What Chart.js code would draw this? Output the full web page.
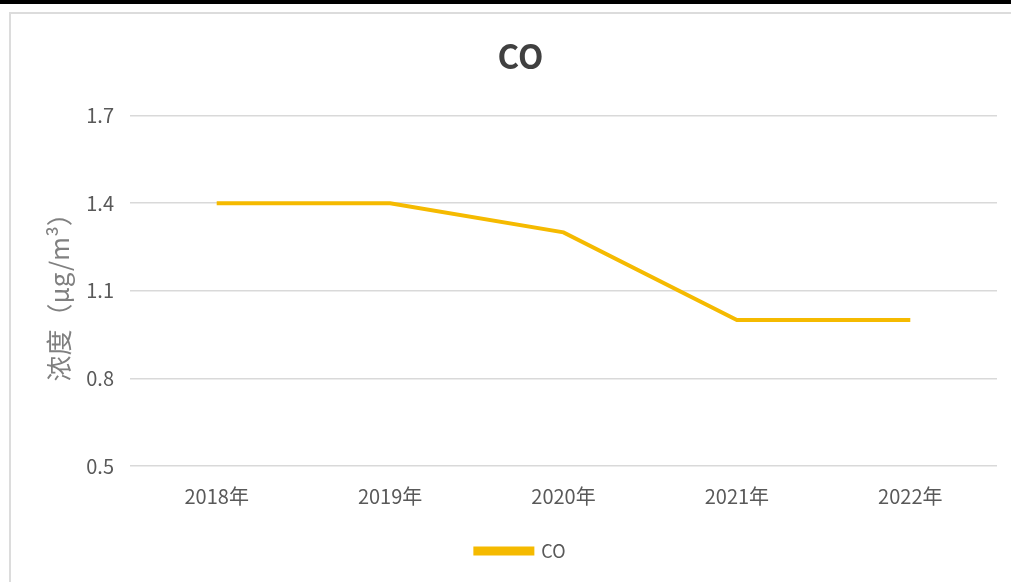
<!DOCTYPE html>
<html>
<head>
<meta charset="utf-8">
<script src="https://cdn.jsdelivr.net/npm/chart.js@4/dist/chart.umd.min.js"></script>
<style>
  html, body { margin: 0; padding: 0; background: #fff; }
  body { width: 1011px; height: 582px; position: relative; overflow: hidden; }
  #topbar { position: absolute; left: 0; top: 0; width: 1011px; height: 4px; background: #000; }
  #frame { position: absolute; left: 9px; top: 12px; width: 1010px; height: 580px;
           border-left: 2px solid #dcdcdc; border-top: 2px solid #dcdcdc; }
  #chart { position: absolute; left: 0; top: 0; }
</style>
</head>
<body>
<div id="topbar"></div>
<div id="frame"></div>
<canvas id="chart" width="1011" height="582"></canvas>
<script>
// data
const years = ["2018年", "2019年", "2020年", "2021年", "2022年"];
const coValues = [1.4, 1.4, 1.3, 1.0, 1.0];
const yTicks = [0.5, 0.8, 1.1, 1.4, 1.7];

const lineColor = "#F5BA00";
const gridColor = "#d9d9d9";
const labelColor = "#595959";
const fontFamily = "'Noto Sans CJK SC', 'Noto Sans', sans-serif";

const ctx = document.getElementById("chart").getContext("2d");

new Chart(ctx, {
  type: "line",
  data: {
    labels: years,
    datasets: [
      {
        label: "CO",
        data: coValues,
        borderColor: lineColor,
        backgroundColor: lineColor,
        borderWidth: 4,
        pointRadius: 0,
        tension: 0,
      },
    ],
  },
  options: {
    responsive: false,
    animation: false,
    layout: { padding: { left: 44, right: 14, top: 0, bottom: 12 } },
    plugins: {
      title: {
        display: true,
        text: "CO",
        color: "#404040",
        font: { family: fontFamily, size: 33, weight: "bold" },
        padding: { top: 37, bottom: 39 },
      },
      legend: {
        position: "bottom",
        labels: {
          color: labelColor,
          font: { family: fontFamily, size: 18 },
          boxWidth: 57,
          boxHeight: 5,
          padding: 8,
        },
      },
      tooltip: { enabled: false },
    },
    scales: {
      x: {
        offset: true,
        grid: { display: false },
        border: { display: false },
        ticks: {
          color: labelColor,
          font: { family: fontFamily, size: 20 },
          padding: 10,
          maxRotation: 0,
        },
        afterFit: (scale) => { scale.height = 68; },
      },
      y: {
        min: 0.5,
        max: 1.7,
        afterBuildTicks: (scale) => {
          scale.ticks = yTicks.map((v) => ({ value: v }));
        },
        grid: { color: gridColor, lineWidth: 1.5, drawTicks: false },
        border: { display: false },
        ticks: {
          color: labelColor,
          font: { family: fontFamily, size: 20 },
          padding: 16,
          callback: (v) => v.toFixed(1),
        },
        title: {
          display: true,
          text: "浓度（μg/m³）",
          color: "#808080",
          font: { family: fontFamily, size: 26 },
          padding: 0,
        },
        afterFit: (scale) => { scale.width = 86; },
      },
    },
  },
});
</script>
</body>
</html>
